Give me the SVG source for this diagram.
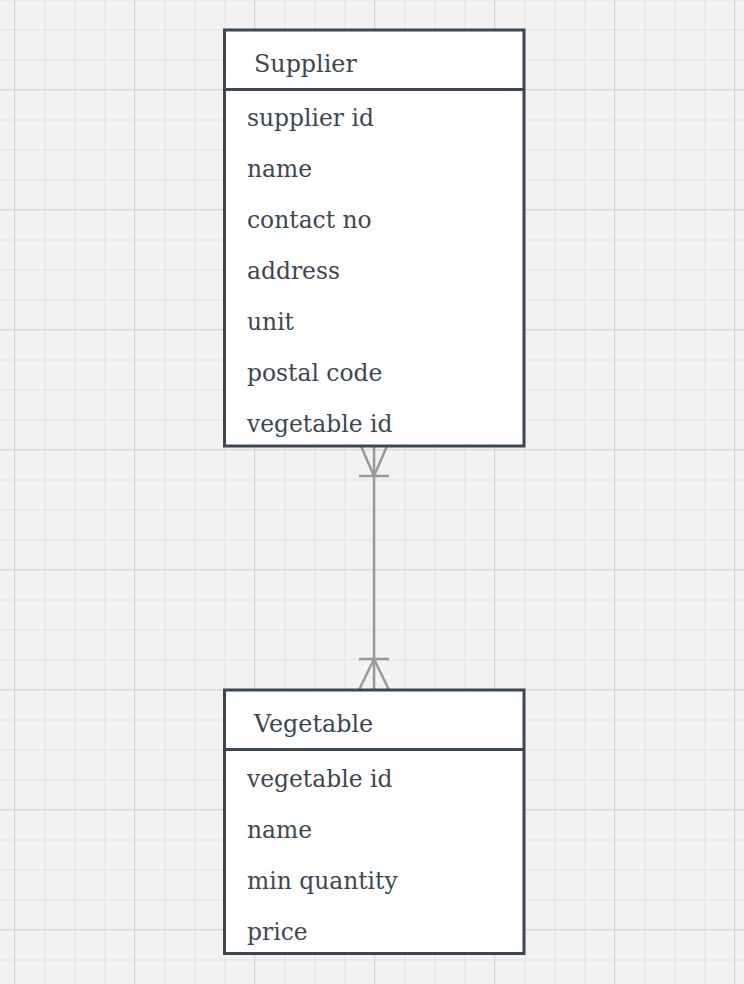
<svg xmlns="http://www.w3.org/2000/svg" width="744" height="984" viewBox="0 0 744 984">
<defs>
<pattern id="minor" width="30" height="30" patternUnits="userSpaceOnUse" x="14.5" y="29.5">
<path d="M0 0.5H30M0.5 0V30" stroke="#e2e2e2" stroke-width="1" fill="none"/>
</pattern>
<pattern id="major" width="120" height="120" patternUnits="userSpaceOnUse" x="134" y="89">
<path d="M0 0.5H120M0.5 0V120" stroke="#d5d5d5" stroke-width="1" fill="none"/>
</pattern>
</defs>
<style>
.box{fill:#ffffff;stroke:#3d4752;stroke-width:3}
.div{stroke:#3d4752;stroke-width:3}
.t{font-family:"DejaVu Serif","Liberation Serif",serif;font-size:23.4px;fill:#3d4752}
.h{font-size:23.8px}
.c{stroke:#999999;stroke-width:2.5;fill:none}
</style>
<rect width="744" height="984" fill="#f2f2f2"/>
<rect width="744" height="984" fill="url(#minor)"/>
<rect width="744" height="984" fill="url(#major)"/>
<g id="connectors">
<path class="c" d="M374 446V690"/>
<path class="c" d="M361 446L374 476L387 446M359 476H389"/>
<path class="c" d="M359 690L374 659L389 690M359 659H389"/>
</g>
<g id="supplier">
<rect class="box" x="224.5" y="30" width="299.5" height="416"/>
<line class="div" x1="224.5" y1="89.5" x2="524" y2="89.5"/>
<text class="t h" x="254" y="72">Supplier</text>
<text class="t" x="247" y="126">supplier id</text>
<text class="t" x="247" y="177">name</text>
<text class="t" x="247" y="228">contact no</text>
<text class="t" x="247" y="279">address</text>
<text class="t" x="247" y="330">unit</text>
<text class="t" x="247" y="381">postal code</text>
<text class="t" x="247" y="432">vegetable id</text>
</g>
<g id="vegetable">
<rect class="box" x="224.5" y="690" width="299.5" height="263.5"/>
<line class="div" x1="224.5" y1="749.5" x2="524" y2="749.5"/>
<text class="t h" x="254" y="732">Vegetable</text>
<text class="t" x="247" y="787">vegetable id</text>
<text class="t" x="247" y="838">name</text>
<text class="t" x="247" y="889">min quantity</text>
<text class="t" x="247" y="940">price</text>
</g>
</svg>
